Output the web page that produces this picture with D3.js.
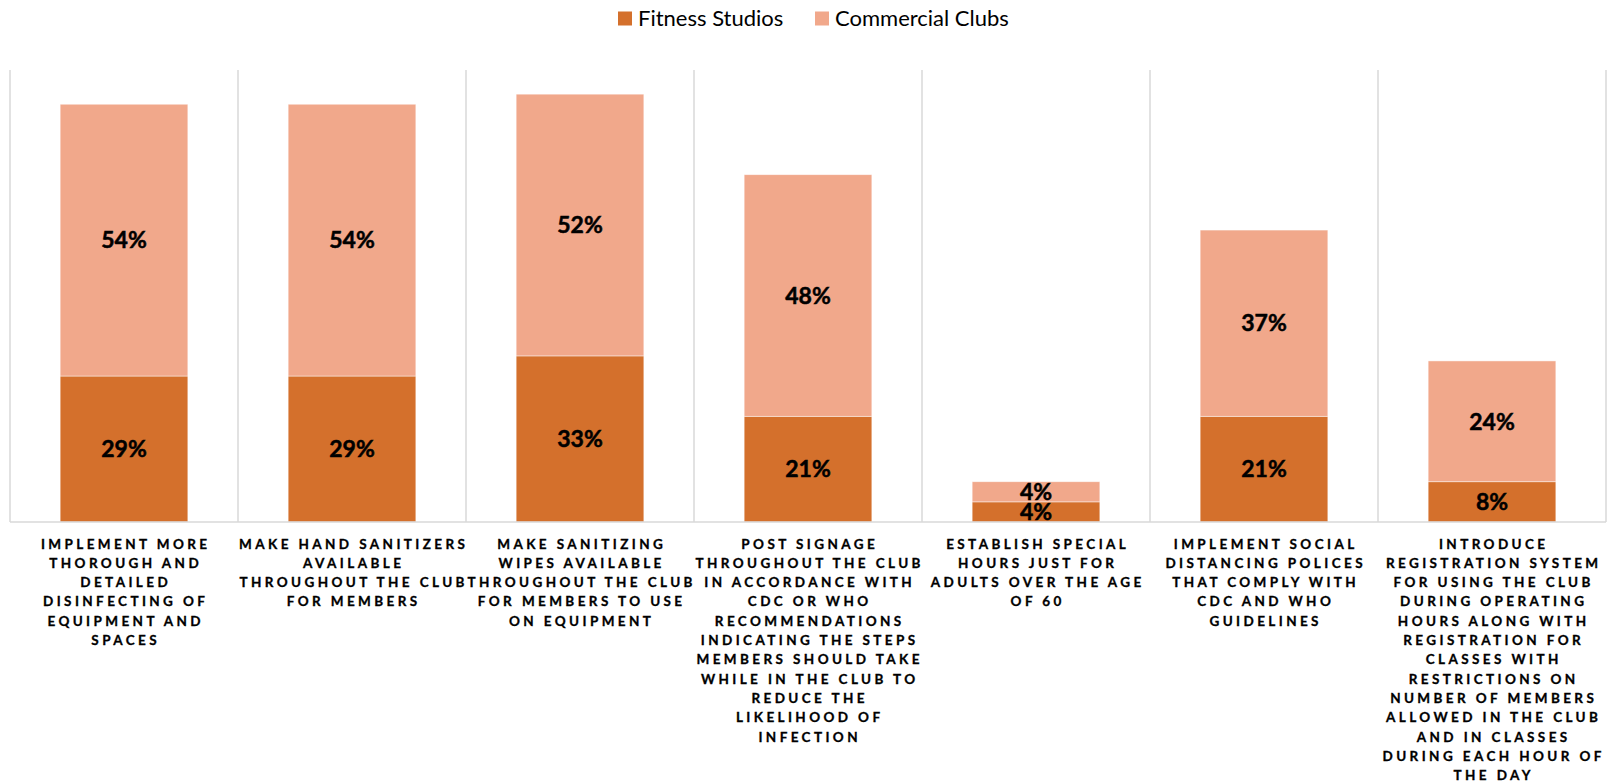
<!DOCTYPE html>
<html>
<head>
<meta charset="utf-8">
<script src="https://cdn.jsdelivr.net/npm/d3@7/dist/d3.min.js"></script>
<style>
  html, body { margin: 0; padding: 0; background: #fff; }
  svg { display: block; }
  text { font-family: Lato, "Open Sans", sans-serif; }
</style>
</head>
<body>
<svg id="chart" width="1608" height="784"></svg>
<script>
// Club reopening measures: share of respondents by club type
const categories = [
  "Implement more thorough and detailed disinfecting of equipment and spaces",
  "Make hand sanitizers available throughout the club for members",
  "Make sanitizing wipes available throughout the club for members to use on equipment",
  "Post signage throughout the club in accordance with CDC or WHO recommendations indicating the steps members should take while in the club to reduce the likelihood of infection",
  "Establish special hours just for adults over the age of 60",
  "Implement social distancing polices that comply with CDC and WHO guidelines",
  "Introduce registration system for using the club during operating hours along with registration for classes with restrictions on number of members allowed in the club and in classes during each hour of the day"
];

// Axis label lines, wrapped as they appear under each bar
const categoryLines = [
  ["IMPLEMENT MORE", "THOROUGH AND", "DETAILED", "DISINFECTING OF", "EQUIPMENT AND", "SPACES"],
  ["MAKE HAND SANITIZERS", "AVAILABLE", "THROUGHOUT THE CLUB", "FOR MEMBERS"],
  ["MAKE SANITIZING", "WIPES AVAILABLE", "THROUGHOUT THE CLUB", "FOR MEMBERS TO USE", "ON EQUIPMENT"],
  ["POST SIGNAGE", "THROUGHOUT THE CLUB", "IN ACCORDANCE WITH", "CDC OR WHO", "RECOMMENDATIONS", "INDICATING THE STEPS", "MEMBERS SHOULD TAKE", "WHILE IN THE CLUB TO", "REDUCE THE", "LIKELIHOOD OF", "INFECTION"],
  ["ESTABLISH SPECIAL", "HOURS JUST FOR", "ADULTS OVER THE AGE", "OF 60"],
  ["IMPLEMENT SOCIAL", "DISTANCING POLICES", "THAT COMPLY WITH", "CDC AND WHO", "GUIDELINES"],
  ["INTRODUCE", "REGISTRATION SYSTEM", "FOR USING THE CLUB", "DURING OPERATING", "HOURS ALONG WITH", "REGISTRATION FOR", "CLASSES WITH", "RESTRICTIONS ON", "NUMBER OF MEMBERS", "ALLOWED IN THE CLUB", "AND IN CLASSES", "DURING EACH HOUR OF", "THE DAY"]
];

const seriesNames = ["Fitness Studios", "Commercial Clubs"];
const fitnessStudios   = [0.29, 0.29, 0.33, 0.21, 0.04, 0.21, 0.08];
const commercialClubs  = [0.54, 0.54, 0.52, 0.48, 0.04, 0.37, 0.24];
const seriesColors = ["#D4702C", "#F1A88B"];

const svg = d3.select("#chart");

const plot = { left: 10, right: 1606, top: 70, bottom: 522 };

const x = d3.scaleBand()
  .domain(d3.range(categories.length))
  .range([plot.left, plot.right])
  .paddingInner(0.44)
  .paddingOuter(0.22);

const y = d3.scaleLinear()
  .domain([0, 0.9])
  .range([plot.bottom, plot.bottom - 453]);

const step = (plot.right - plot.left) / categories.length;

// category separators
const sepG = svg.append("g");
d3.range(categories.length + 1).forEach(i => {
  const xx = plot.left + i * step;
  sepG.append("line")
    .attr("x1", xx).attr("x2", xx)
    .attr("y1", plot.top).attr("y2", plot.bottom)
    .attr("stroke", "#D9D9D9").attr("stroke-width", 1.5);
});

// stacked data
const rows = categories.map((c, i) => ({ i, fs: fitnessStudios[i], cc: commercialClubs[i] }));
const stack = d3.stack().keys(["fs", "cc"])(rows);

const barG = svg.append("g");
stack.forEach((layer, si) => {
  barG.selectAll(null).data(layer).enter().append("rect")
    .attr("x", d => x(d.data.i))
    .attr("width", x.bandwidth())
    .attr("y", d => y(d[1]))
    .attr("height", d => y(d[0]) - y(d[1]))
    .attr("fill", seriesColors[si])
    .attr("stroke", "#fff")
    .attr("stroke-opacity", 0.6)
    .attr("stroke-width", 0.75);

  barG.selectAll(null).data(layer).enter().append("text")
    .attr("x", d => x(d.data.i) + x.bandwidth() / 2)
    .attr("y", d => (y(d[0]) + y(d[1])) / 2)
    .attr("dy", "0.36em")
    .attr("text-anchor", "middle")
    .attr("font-size", 23)
    .attr("font-weight", 700)
    .attr("fill", "#000")
    .attr("stroke", "#000")
    .attr("stroke-width", 0.5)
    .text(d => d3.format(".0%")(d[1] - d[0]));
});

// baseline
svg.append("line")
  .attr("x1", plot.left).attr("x2", plot.right)
  .attr("y1", plot.bottom).attr("y2", plot.bottom)
  .attr("stroke", "#D9D9D9").attr("stroke-width", 1.5);

// category axis labels
const ls = 3.4;
const labG = svg.append("g");
categoryLines.forEach((lines, i) => {
  const cx = x(i) + x.bandwidth() / 2 + ls / 2;
  const t = labG.append("text")
    .attr("text-anchor", "middle")
    .attr("font-size", 13.5)
    .attr("font-weight", 700)
    .attr("letter-spacing", ls)
    .attr("fill", "#000")
    .attr("stroke", "#000")
    .attr("stroke-width", 0.3);
  lines.forEach((ln, k) => {
    t.append("tspan")
      .attr("x", cx)
      .attr("y", plot.bottom + 26.5 + k * 19.3)
      .text(ln);
  });
});

// legend
const legend = svg.append("g");
const legendItems = [
  { name: seriesNames[0], color: seriesColors[0], x: 618 },
  { name: seriesNames[1], color: seriesColors[1], x: 815 }
];
legendItems.forEach(it => {
  legend.append("rect")
    .attr("x", it.x).attr("y", 11.5)
    .attr("width", 14).attr("height", 14)
    .attr("fill", it.color);
  legend.append("text")
    .attr("x", it.x + 20).attr("y", 18.5)
    .attr("dy", "0.36em")
    .attr("font-size", 22)
    .attr("fill", "#000")
    .text(it.name);
});
</script>
</body>
</html>
